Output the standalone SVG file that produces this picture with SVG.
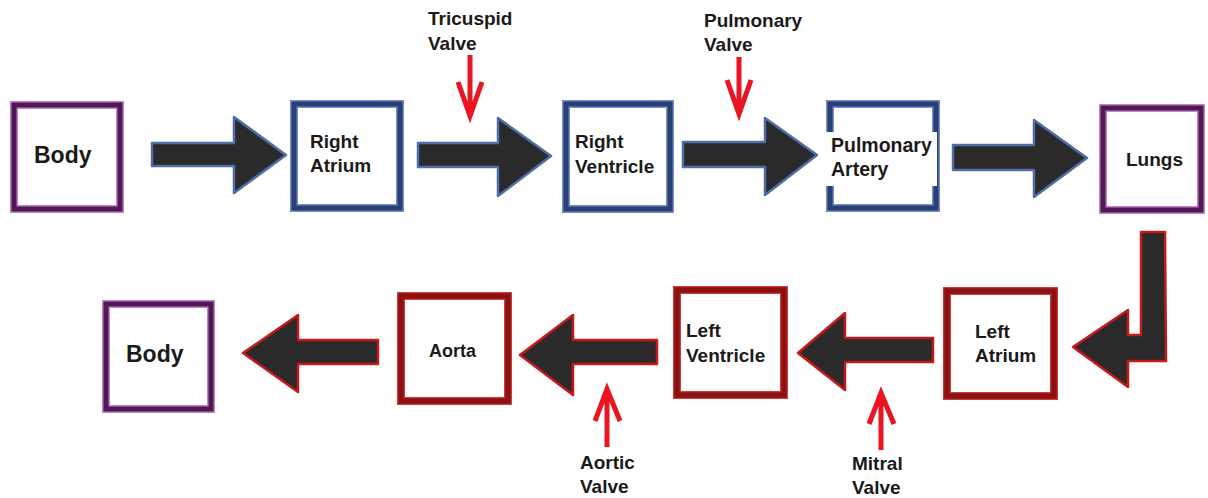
<svg xmlns="http://www.w3.org/2000/svg" width="1208" height="498" viewBox="0 0 1208 498">
<style>
.t{font-family:"Liberation Sans",Arial,sans-serif;font-weight:bold;fill:#1a1a1a}
.bo{fill:#fff;stroke:#6f8fcc;stroke-width:8}
.bi{fill:none;stroke:#2c3e72;stroke-width:5}
.po{fill:#fff;stroke:#c77fd0;stroke-width:8}
.pi{fill:none;stroke:#4e1a52;stroke-width:5}
.ro{fill:#fff;stroke:#d23a3a;stroke-width:8}
.ri{fill:none;stroke:#8a1212;stroke-width:5.5}
.ab{fill:#2a2a2a;stroke:#4f6ea8;stroke-width:2.5;stroke-linejoin:round}
.ar{fill:#2a2a2a;stroke:#c81818;stroke-width:2.5;stroke-linejoin:round}
.rv{fill:none;stroke:#ea1520;stroke-width:5;stroke-linejoin:miter}
</style>
<rect width="1208" height="498" fill="#fff"/>

<g id="connectors">
<path class="ab" d="M152,143 L234,143 L234,117 L286,155 L234,193 L234,166 L152,166 Z"/>
<path class="ab" d="M418,143 L498,143 L498,118 L551,156 L498,196 L498,167 L418,167 Z"/>
<path class="ab" d="M683,142 L765,142 L765,118 L817,155 L765,195 L765,167 L683,167 Z"/>
<path class="ab" d="M953,145 L1034,145 L1034,120 L1087,158 L1034,197 L1034,170 L953,170 Z"/>
<path class="ar" d="M1141,232 L1165,232 L1166,361 L1128,361 L1128,387 L1073,347 L1128,310 L1128,335 L1141,335 Z"/>
<path class="ar" d="M933,338 L845,338 L845,313 L798,353 L845,390 L845,362 L933,362 Z"/>
<path class="ar" d="M657,340 L573,340 L573,315 L520,355 L573,395 L573,364 L657,364 Z"/>
<path class="ar" d="M378,340 L298,340 L298,315 L243,353 L298,392 L298,364 L378,364 Z"/>
<g id="valve-arrows">
<path class="rv" d="M470,55 L470,115 M458,82 L470,116 L482,82"/>
<path class="rv" d="M739,57 L739,113 M727,80 L739,114 L751,80"/>
<path class="rv" d="M607,447 L607,390 M595,421 L607,389 L620,421"/>
<path class="rv" d="M881,450 L881,394 M869,424 L881,393 L894,424"/>
</g>
</g>

<g id="body-top">
<rect class="po" x="14" y="105" width="106" height="104"/>
<rect class="pi" x="14" y="105" width="106" height="104"/>
<text class="t" x="34" y="163" font-size="23">Body</text>
</g>
<g id="right-atrium">
<rect class="bo" x="294" y="104" width="106" height="104"/>
<rect class="bi" x="294" y="104" width="106" height="104"/>
<text class="t" x="310" y="148" font-size="19">Right</text>
<text class="t" x="310" y="172" font-size="19">Atrium</text>
</g>
<g id="right-ventricle">
<rect class="bo" x="566" y="104" width="104" height="105"/>
<rect class="bi" x="566" y="104" width="104" height="105"/>
<text class="t" x="575" y="148" font-size="19">Right</text>
<text class="t" x="575" y="173" font-size="19">Ventricle</text>
</g>
<g id="pulmonary-artery">
<rect class="bo" x="830" y="104" width="106" height="104"/>
<rect class="bi" x="830" y="104" width="106" height="104"/>
<rect x="825" y="132" width="112" height="54" fill="#fff"/>
<text class="t" x="831" y="152" font-size="19.5">Pulmonary</text>
<text class="t" x="831" y="176" font-size="19.5">Artery</text>
</g>
<g id="lungs">
<rect class="po" x="1103" y="108" width="98" height="102"/>
<rect class="pi" x="1103" y="108" width="98" height="102"/>
<text class="t" x="1126" y="166" font-size="19">Lungs</text>
</g>
<g id="tricuspid-label">
<text class="t" x="428" y="25" font-size="19">Tricuspid</text>
<text class="t" x="428" y="50" font-size="19">Valve</text>
</g>
<g id="pulmonary-valve-label">
<text class="t" x="704" y="27" font-size="19">Pulmonary</text>
<text class="t" x="704" y="51" font-size="19">Valve</text>
</g>

<g id="left-atrium">
<rect class="ro" x="947" y="291" width="107" height="105"/>
<rect class="ri" x="947" y="291" width="107" height="105"/>
<text class="t" x="975" y="338" font-size="19">Left</text>
<text class="t" x="975" y="362" font-size="19">Atrium</text>
</g>
<g id="left-ventricle">
<rect class="ro" x="677" y="290" width="107" height="105"/>
<rect class="ri" x="677" y="290" width="107" height="105"/>
<text class="t" x="686" y="337" font-size="19">Left</text>
<text class="t" x="686" y="362" font-size="19">Ventricle</text>
</g>
<g id="aorta">
<rect class="ro" x="401" y="296" width="107" height="105"/>
<rect class="ri" x="401" y="296" width="107" height="105"/>
<text class="t" x="429" y="357" font-size="18">Aorta</text>
</g>
<g id="body-bottom">
<rect class="po" x="106" y="304" width="105" height="105"/>
<rect class="pi" x="106" y="304" width="105" height="105"/>
<text class="t" x="126" y="362" font-size="23">Body</text>
</g>
<g id="aortic-label">
<text class="t" x="580" y="469" font-size="19">Aortic</text>
<text class="t" x="580" y="493" font-size="19">Valve</text>
</g>
<g id="mitral-label">
<text class="t" x="852" y="470" font-size="19">Mitral</text>
<text class="t" x="852" y="494" font-size="19">Valve</text>
</g>
</svg>
